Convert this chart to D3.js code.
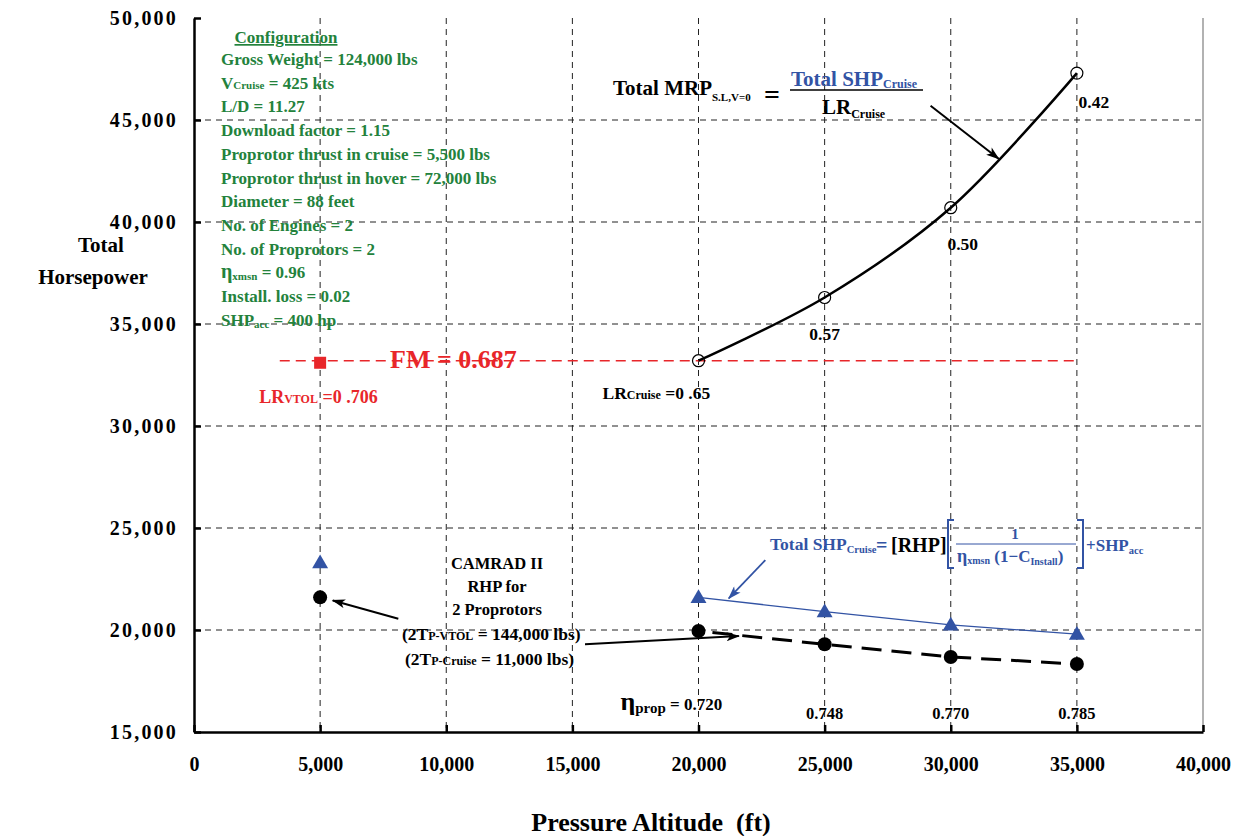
<!DOCTYPE html>
<html><head><meta charset="utf-8">
<script src="https://cdn.jsdelivr.net/npm/d3@7/dist/d3.min.js"></script>
<style>
body{margin:0;background:#fff;}
svg{font-family:"Liberation Serif","Times New Roman",serif;font-weight:bold;}
</style></head>
<body><svg id="c" width="1242" height="836"></svg>
<script>
// ---- data ----
const xTicks = [0,5000,10000,15000,20000,25000,30000,35000,40000];
const yTicks = [15000,20000,25000,30000,35000,40000,45000,50000];
const cruiseAlt = [20000,25000,30000,35000];
const totalMRP = [33200,36300,40700,47300];
const totalSHPCruise = [21600,20900,20250,19800];
const rhpCruise = [19950,19300,18680,18330];
const vtolAlt = 5000;
const vtolSHP = 23300;
const vtolRHP = 21600;
const vtolMRP = 33100;
const fmLevel = 33200;
const lrCruiseLabels = ["0 .65","0.57","0.50","0.42"];
const etaPropLabels = ["0.720","0.748","0.770","0.785"];
const configLines = [
  ["Gross Weight = 124,000 lbs"],
  ["V","Cruise"," = 425 kts"],
  ["L/D = 11.27"],
  ["Download factor = 1.15"],
  ["Proprotor thrust in cruise = 5,500 lbs"],
  ["Proprotor thrust in hover = 72,000 lbs"],
  ["Diameter = 88 feet"],
  ["No. of Engines = 2"],
  ["No. of Proprotors = 2"],
  ["η","xmsn"," = 0.96"],
  ["Install. loss = 0.02"],
  ["SHP","acc"," = 400 hp"]
];

const BLUE="#3253a4", GREEN="#23823c", RED="#e8262a";
const svg = d3.select("#c");
const x = d3.scaleLinear().domain([0,40000]).range([194,1203]);
const y = d3.scaleLinear().domain([15000,50000]).range([732,18]);

// markers
const defs = svg.append("defs");
function mk(id,color){
  defs.append("marker").attr("id",id).attr("viewBox","0 0 12 8").attr("refX",11).attr("refY",4)
   .attr("markerWidth",14).attr("markerHeight",9).attr("markerUnits","userSpaceOnUse").attr("orient","auto")
   .append("path").attr("d","M0,0 L12,4 L0,8 L3,4 Z").attr("fill",color);
}
mk("ab","#000"); mk("abl",BLUE);

// grid
const g = svg.append("g");
g.selectAll(".vg").data(xTicks.filter(d=>d>0&&d<40000)).join("line")
 .attr("x1",d=>x(d)).attr("x2",d=>x(d)).attr("y1",y(50000)).attr("y2",y(15000))
 .attr("stroke","#222").attr("stroke-width",1).attr("stroke-dasharray","6,5");
g.selectAll(".hg").data(yTicks.filter(d=>d>15000&&d<50000)).join("line")
 .attr("x1",x(0)).attr("x2",x(40000)).attr("y1",d=>y(d)).attr("y2",d=>y(d))
 .attr("stroke","#222").attr("stroke-width",1).attr("stroke-dasharray","6,5");
// right border
g.append("line").attr("x1",x(40000)).attr("x2",x(40000)).attr("y1",y(50000)).attr("y2",y(15000))
 .attr("stroke","#999").attr("stroke-width",1.5);

// axes
const xa = svg.append("g").attr("transform",`translate(0,${y(15000)})`)
 .call(d3.axisBottom(x).tickValues(xTicks).tickFormat(d3.format(",")).tickSize(-7).tickSizeOuter(0).tickPadding(25));
const ya = svg.append("g").attr("transform",`translate(${x(0)},0)`)
 .call(d3.axisLeft(y).tickValues(yTicks).tickFormat(d3.format(",")).tickSize(-7).tickSizeOuter(0).tickPadding(16));
[xa,ya].forEach(a=>{
  a.select(".domain").attr("stroke","#000").attr("stroke-width",2.5);
  a.selectAll(".tick line").attr("stroke","#000").attr("stroke-width",2.5);
  a.selectAll("text").attr("font-family","'Liberation Serif',serif").attr("font-weight","bold").attr("fill","#000");
});
xa.selectAll("text").attr("font-size",20);
ya.selectAll("text").attr("font-size",20).attr("letter-spacing","2.2px");

// axis titles
svg.append("text").attr("x",651).attr("y",831).attr("text-anchor","middle").attr("font-size",26).attr("xml:space","preserve").text("Pressure Altitude  (ft)");
svg.append("text").attr("x",101).attr("y",252).attr("text-anchor","middle").attr("font-size",21).text("Total");
svg.append("text").attr("x",93).attr("y",284).attr("text-anchor","middle").attr("font-size",21).text("Horsepower");

// FM line & label
svg.append("text").attr("x",390).attr("y",368).attr("font-size",26).attr("fill",RED).text("FM = 0.687");
svg.append("line").attr("x1",x(3400)).attr("x2",x(35000)).attr("y1",y(fmLevel)).attr("y2",y(fmLevel))
 .attr("stroke",RED).attr("stroke-width",1.5).attr("stroke-dasharray","10,6");

// RHP dashed line
const line = d3.line().x(d=>x(d[0])).y(d=>y(d[1]));
svg.append("path").attr("d",line(cruiseAlt.map((a,i)=>[a,rhpCruise[i]])))
 .attr("fill","none").attr("stroke","#000").attr("stroke-width",3).attr("stroke-dasharray","20,10").attr("stroke-dashoffset",-14);
// SHP blue line
svg.append("path").attr("d",line(cruiseAlt.map((a,i)=>[a,totalSHPCruise[i]])))
 .attr("fill","none").attr("stroke",BLUE).attr("stroke-width",1.3);
// MRP smooth curve
svg.append("path").attr("d",d3.line().x(d=>x(d[0])).y(d=>y(d[1])).curve(d3.curveCatmullRom.alpha(0.5))(cruiseAlt.map((a,i)=>[a,totalMRP[i]])))
 .attr("fill","none").attr("stroke","#000").attr("stroke-width",2.5);

// markers: open circles
svg.selectAll(".oc").data(cruiseAlt).join("circle").attr("cx",d=>x(d)).attr("cy",(d,i)=>y(totalMRP[i])).attr("r",6)
 .attr("fill","none").attr("stroke","#000").attr("stroke-width",1.2);
// filled circles
const rhpPts = [[vtolAlt,vtolRHP]].concat(cruiseAlt.map((a,i)=>[a,rhpCruise[i]]));
svg.selectAll(".fc").data(rhpPts).join("circle").attr("cx",d=>x(d[0])).attr("cy",d=>y(d[1])).attr("r",7).attr("fill","#000");
// triangles
const shpPts = [[vtolAlt,vtolSHP]].concat(cruiseAlt.map((a,i)=>[a,totalSHPCruise[i]]));
const tri = d3.symbol().type(d3.symbolTriangle).size(110);
svg.selectAll(".tr").data(shpPts).join("path").attr("d",tri).attr("transform",d=>`translate(${x(d[0])},${y(d[1])+1})`).attr("fill",BLUE);
// red square
svg.append("rect").attr("x",x(vtolAlt)-6).attr("y",y(vtolMRP)-6).attr("width",12).attr("height",12).attr("fill",RED);

// LR labels
svg.append("text").attr("x",x(vtolAlt)-61).attr("y",y(vtolMRP)+40).attr("font-size",18).attr("fill",RED)
 .call(t=>{t.append("tspan").text("LR");t.append("tspan").attr("font-size",12).text("VTOL");t.append("tspan").text(" =0 .706");});
svg.append("text").attr("x",x(20000)-96).attr("y",y(totalMRP[0])+38).attr("font-size",17.5)
 .call(t=>{t.append("tspan").text("LR");t.append("tspan").attr("font-size",12).text("Cruise");t.append("tspan").text(" =" + lrCruiseLabels[0]);});
const lrOff = [[0,0],[0,43],[12,42],[17,35]];
lrCruiseLabels.slice(1).forEach((l,j)=>{
  const i=j+1;
  svg.append("text").attr("x",x(cruiseAlt[i])+lrOff[i][0]).attr("y",y(totalMRP[i])+lrOff[i][1]).attr("text-anchor","middle").attr("font-size",17.5).text(l);
});

// eta prop labels
svg.append("text").attr("x",x(20000)-78).attr("y",710).attr("font-size",17)
 .call(t=>{t.append("tspan").attr("font-size",26).text("η");t.append("tspan").attr("font-size",15).attr("dy",3).text("prop");t.append("tspan").attr("dy",-3).text(" = "+etaPropLabels[0]);});
etaPropLabels.slice(1).forEach((l,j)=>{
  svg.append("text").attr("x",x(cruiseAlt[j+1])).attr("y",719).attr("text-anchor","middle").attr("font-size",16.5).text(l);
});

// CAMRAD text
["CAMRAD II","RHP for","2 Proprotors"].forEach((s,i)=>{
  svg.append("text").attr("x",497).attr("y",569+i*23).attr("text-anchor","middle").attr("font-size",16.5).text(s);
});
svg.append("text").attr("x",402).attr("y",640).attr("font-size",17.5)
 .call(t=>{t.append("tspan").text("(2T");t.append("tspan").attr("font-size",12).text("P-VTOL");t.append("tspan").text(" = 144,000 lbs)");});
svg.append("text").attr("x",405).attr("y",665).attr("font-size",17.5)
 .call(t=>{t.append("tspan").text("(2T");t.append("tspan").attr("font-size",12).text("P-Cruise");t.append("tspan").text(" = 11,000 lbs)");});

// arrows (data coordinates)
const arrows = [
  {from:[8100,20550],to:[5500,21450],c:"#000",m:"ab",w:2},
  {from:[15500,19300],to:[21600,19700],c:"#000",m:"ab",w:2},
  {from:[22650,23430],to:[21200,21550],c:BLUE,m:"abl",w:1.8},
  {from:[29200,45700],to:[31900,43100],c:"#000",m:"ab",w:2}
];
arrows.forEach(a=>{
  svg.append("line").attr("x1",x(a.from[0])).attr("y1",y(a.from[1])).attr("x2",x(a.to[0])).attr("y2",y(a.to[1]))
   .attr("stroke",a.c).attr("stroke-width",a.w).attr("marker-end",`url(#${a.m})`);
});

// Configuration block
svg.append("text").attr("x",286).attr("y",43).attr("text-anchor","middle").attr("font-size",17).attr("fill",GREEN).attr("text-decoration","underline").text("Configuration");
configLines.forEach((parts,i)=>{
  const t = svg.append("text").attr("x",221).attr("y",65+i*23.7).attr("font-size",17).attr("fill",GREEN);
  if(parts.length===1) t.text(parts[0]);
  else {
    if(parts[0]==="η") t.append("tspan").attr("font-size",20).text(parts[0]); else t.append("tspan").text(parts[0]);
    t.append("tspan").attr("font-size",11).attr("dy",parts[0]==="V"?0:2).text(parts[1]);
    t.append("tspan").attr("dy",parts[0]==="V"?0:-2).text(parts[2]);
  }
});

// Top formula
const f1 = svg.append("g");
f1.append("text").attr("x",613).attr("y",95).attr("font-size",21)
 .call(t=>{t.append("tspan").text("Total MRP");t.append("tspan").attr("font-size",11).attr("dy",6).text("S.L,V=0");});
f1.append("text").attr("x",764).attr("y",104).attr("font-size",28).text("=");
f1.append("text").attr("x",791).attr("y",86).attr("font-size",21).attr("fill",BLUE)
 .call(t=>{t.append("tspan").text("Total SHP");t.append("tspan").attr("font-size",12).attr("dy",2).text("Cruise");});
f1.append("line").attr("x1",790).attr("x2",923).attr("y1",90).attr("y2",90).attr("stroke","#000").attr("stroke-width",1.3);
f1.append("text").attr("x",822).attr("y",114).attr("font-size",21)
 .call(t=>{t.append("tspan").text("LR");t.append("tspan").attr("font-size",12).attr("dy",4).text("Cruise");});

// Bottom formula
const f2 = svg.append("g");
f2.append("text").attr("x",770).attr("y",550).attr("font-size",17.5).attr("fill",BLUE)
 .call(t=>{t.append("tspan").text("Total SHP");t.append("tspan").attr("font-size",10.5).attr("dy",3).text("Cruise");});
f2.append("text").attr("x",876).attr("y",552).attr("font-size",20).attr("fill",BLUE).text("=");
f2.append("text").attr("x",891).attr("y",552).attr("font-size",20).attr("fill","#000").text("[RHP]");
// big brackets
f2.append("path").attr("d","M954,520 L948,520 L948,568 L954,568").attr("fill","none").attr("stroke",BLUE).attr("stroke-width",2);
f2.append("path").attr("d","M1077,520 L1083,520 L1083,568 L1077,568").attr("fill","none").attr("stroke",BLUE).attr("stroke-width",2);
f2.append("text").attr("x",1015).attr("y",539).attr("text-anchor","middle").attr("font-size",15).attr("fill",BLUE).text("1");
f2.append("line").attr("x1",956).attr("x2",1076).attr("y1",544).attr("y2",544).attr("stroke",BLUE).attr("stroke-width",1);
f2.append("text").attr("x",957).attr("y",562).attr("font-size",15).attr("fill",BLUE)
 .call(t=>{t.append("tspan").attr("font-size",18).text("η");t.append("tspan").attr("font-size",10).attr("dy",2).text("xmsn");
   t.append("tspan").attr("dy",-2).attr("font-size",17).text(" (1−C");t.append("tspan").attr("font-size",10).attr("dy",3).text("Install");
   t.append("tspan").attr("dy",-3).attr("font-size",17).text(")");});
f2.append("text").attr("x",1086).attr("y",551).attr("font-size",17).attr("fill",BLUE)
 .call(t=>{t.append("tspan").text("+SHP");t.append("tspan").attr("font-size",10.5).attr("dy",3).text("acc");});
</script></body></html>
